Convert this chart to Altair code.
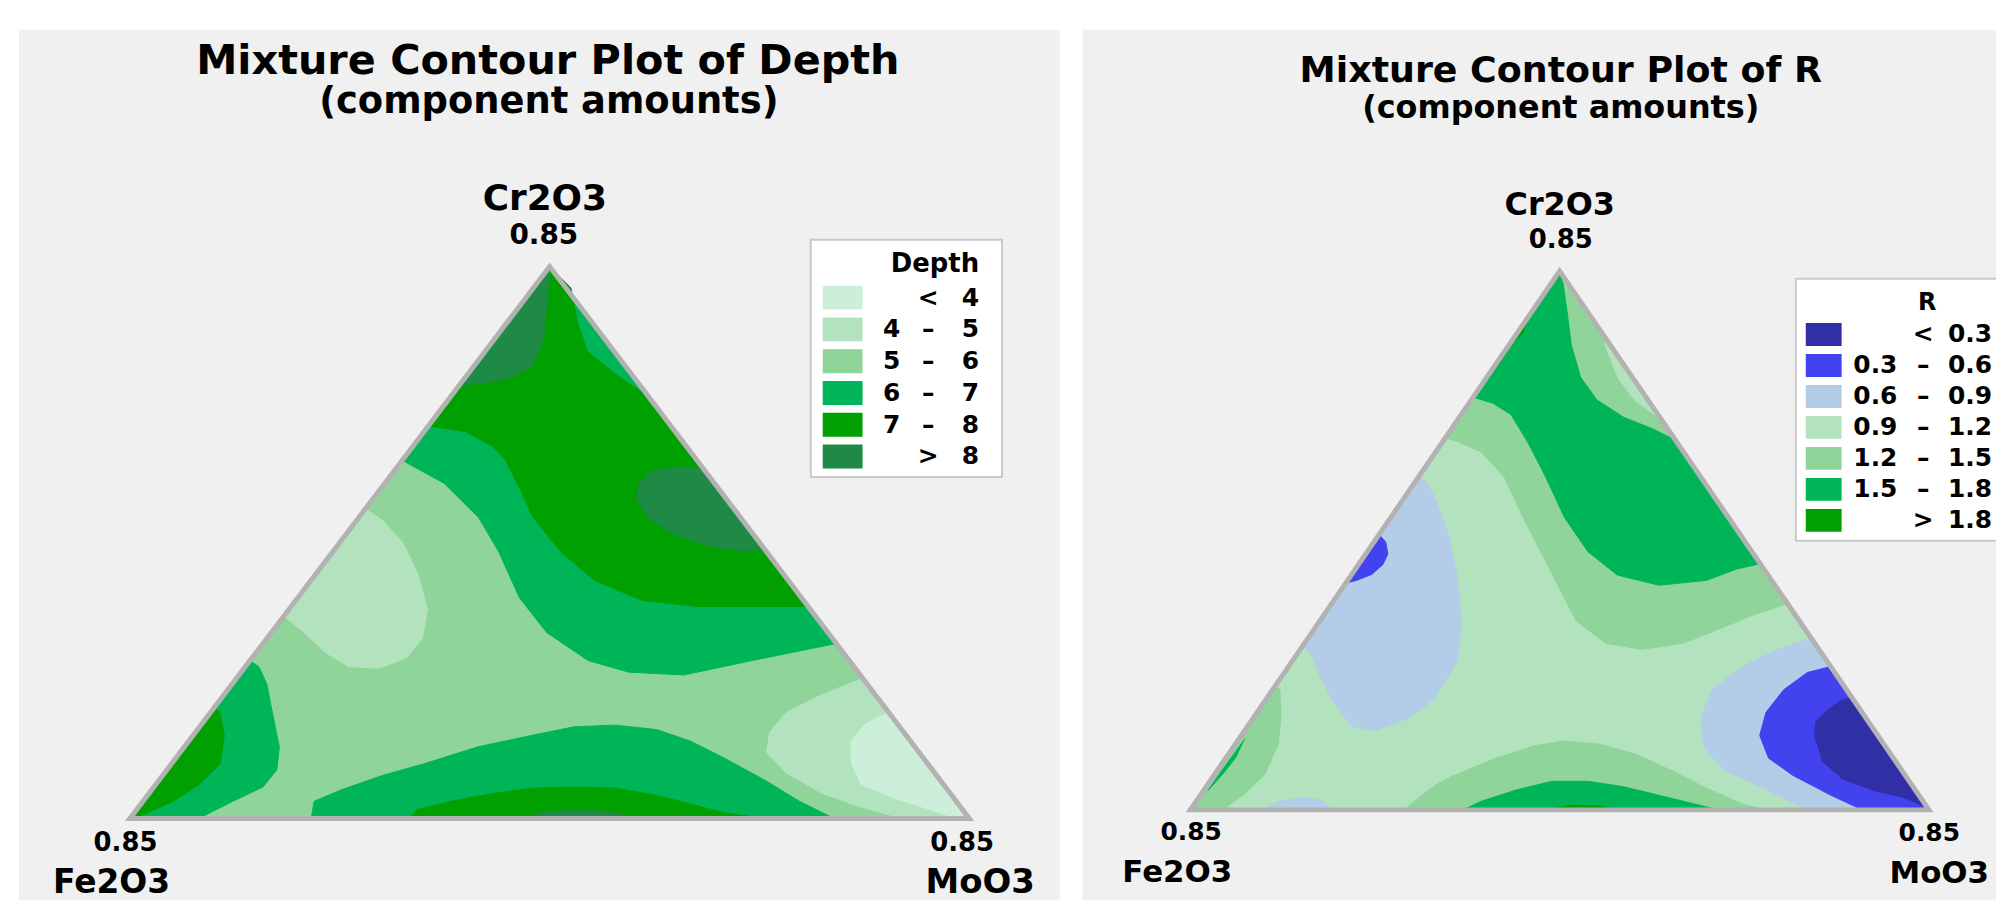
import altair as alt
import pandas as pd

TOTAL = 0.85          # each vertex of the simplex is 0.85 of one component
FONT = "DejaVu Sans"

# ---------------------------------------------------------------------------
# Contour regions.  Each point is (Cr2O3, MoO3) given as
# a fraction of the 0.85 total; Fe2O3 is the remainder.
# ---------------------------------------------------------------------------
# ----- Depth -----
depth_classes = ["< 4", "4 – 5", "5 – 6", "6 – 7", "7 – 8", "> 8"]
depth_lo = ["", "4", "5", "6", "7", ""]
depth_sep = ["<", "–", "–", "–", "–", ">"]
depth_hi = ["4", "5", "6", "7", "8", "8"]
depth_colors = ["#ccefd9", "#b3e3be", "#8fd498", "#00b458", "#00a000", "#1e8a46"]

depth_all = [(1.0, 0.0), (0.0, 0.0), (0.0, 1.0)]
depth_lt5_left = [(0.561, 0.0), (0.540, 0.031), (0.498, 0.077), (0.441, 0.123), (0.379, 0.165),
                  (0.327, 0.185), (0.291, 0.184), (0.272, 0.161), (0.275, 0.123), (0.301, 0.082),
                  (0.337, 0.039), (0.367, 0.0)]
depth_lt5_right = [(0.254, 0.746), (0.223, 0.711), (0.192, 0.686), (0.156, 0.684), (0.119, 0.699),
                   (0.083, 0.740), (0.047, 0.799), (0.023, 0.854), (0.0, 0.920), (0.0, 1.0)]
depth_lt4 = [(0.192, 0.808), (0.171, 0.790), (0.140, 0.789), (0.099, 0.810), (0.062, 0.840),
             (0.036, 0.894), (0.016, 0.945), (0.0, 0.985), (0.0, 1.0)]
depth_gt6_top = [(1.0, 0.0), (0.649, 0.0), (0.607, 0.071), (0.545, 0.143), (0.483, 0.198),
                 (0.400, 0.264), (0.337, 0.328), (0.286, 0.403), (0.265, 0.462), (0.260, 0.530),
                 (0.286, 0.598), (0.317, 0.683)]
depth_gt6_bottom = [(0.0, 0.216), (0.031, 0.204), (0.052, 0.226), (0.078, 0.262), (0.099, 0.301),
                    (0.130, 0.350), (0.151, 0.405), (0.166, 0.446), (0.169, 0.494), (0.161, 0.547),
                    (0.140, 0.598), (0.109, 0.654), (0.068, 0.724), (0.031, 0.782), (0.0, 0.839)]
depth_gt6_left = [(0.286, 0.0), (0.275, 0.016), (0.244, 0.041), (0.182, 0.080), (0.130, 0.113),
                  (0.088, 0.131), (0.057, 0.130), (0.031, 0.107), (0.0, 0.082), (0.0, 0.0)]
depth_gt7_top = [(0.711, 0.0), (0.701, 0.049), (0.675, 0.094), (0.649, 0.123), (0.597, 0.166),
                 (0.545, 0.208), (0.483, 0.272), (0.431, 0.338), (0.395, 0.413), (0.384, 0.484),
                 (0.384, 0.549), (0.384, 0.616), (0.763, 0.237), (0.805, 0.176), (0.846, 0.122),
                 (0.898, 0.084), (0.961, 0.045), (1.0, 0.0)]
depth_gt7_bottom = [(0.0, 0.332), (0.016, 0.334), (0.031, 0.367), (0.045, 0.409), (0.055, 0.453),
                    (0.057, 0.501), (0.055, 0.551), (0.042, 0.606), (0.026, 0.655), (0.010, 0.703),
                    (0.0, 0.757)]
depth_gt7_left = [(0.202, 0.0), (0.192, 0.011), (0.151, 0.037), (0.099, 0.058), (0.062, 0.052),
                  (0.031, 0.036), (0.010, 0.016), (0.0, 0.005), (0.0, 0.0)]
depth_gt8_top = [(1.0, 0.0), (0.940, 0.027), (0.867, 0.059), (0.820, 0.070), (0.800, 0.056),
                 (0.789, 0.029), (0.786, 0.0)]
depth_gt8_blob = [(0.633, 0.367), (0.637, 0.333), (0.630, 0.308), (0.607, 0.303), (0.576, 0.316),
                  (0.545, 0.345), (0.516, 0.389), (0.493, 0.446), (0.486, 0.482), (0.486, 0.514)]
depth_gt8_bottom = [(0.0, 0.464), (0.012, 0.491), (0.016, 0.538), (0.010, 0.573), (0.0, 0.611)]

depth_paint = [
    ("5 – 6", depth_all), ("4 – 5", depth_lt5_left), ("4 – 5", depth_lt5_right), ("< 4", depth_lt4),
    ("6 – 7", depth_gt6_top), ("6 – 7", depth_gt6_bottom), ("6 – 7", depth_gt6_left),
    ("7 – 8", depth_gt7_top), ("7 – 8", depth_gt7_bottom), ("7 – 8", depth_gt7_left),
    ("> 8", depth_gt8_top), ("> 8", depth_gt8_blob), ("> 8", depth_gt8_bottom),
]

# ----- R -----
r_classes = ["< 0.3", "0.3 – 0.6", "0.6 – 0.9", "0.9 – 1.2", "1.2 – 1.5", "1.5 – 1.8", "> 1.8"]
r_lo = ["", "0.3", "0.6", "0.9", "1.2", "1.5", ""]
r_sep = ["<", "–", "–", "–", "–", "–", ">"]
r_hi = ["0.3", "0.6", "0.9", "1.2", "1.5", "1.8", "1.8"]
r_colors = ["#312fa6", "#4242ef", "#b3cde9", "#b3e3be", "#8fd498", "#00b458", "#00a000"]

r_all = [(1.0, 0.0), (0.0, 0.0), (0.0, 1.0)]
r_gt12_top = [(0.691, 0.0), (0.686, 0.014), (0.665, 0.061), (0.617, 0.117), (0.543, 0.179),
              (0.479, 0.235), (0.415, 0.291), (0.351, 0.347), (0.309, 0.408), (0.298, 0.462),
              (0.309, 0.512), (0.335, 0.547), (0.362, 0.582), (0.383, 0.617), (1.0, 0.0)]
r_gt12_left = [(0.230, 0.0), (0.223, 0.010), (0.169, 0.038), (0.122, 0.058), (0.067, 0.068),
               (0.030, 0.059), (0.0, 0.044), (0.0, 0.0)]
r_gt12_bottom = [(0.0, 0.290), (0.027, 0.300), (0.045, 0.308), (0.062, 0.323), (0.094, 0.363),
                 (0.119, 0.406), (0.128, 0.442), (0.122, 0.493), (0.104, 0.550), (0.074, 0.613),
                 (0.040, 0.679), (0.011, 0.742), (0.0, 0.779)]
r_lt12_sliver = [(0.883, 0.117), (0.850, 0.140), (0.800, 0.180), (0.760, 0.222), (0.723, 0.277)]
r_gt15_top = [(1.0, 0.0), (0.766, 0.0), (0.755, 0.032), (0.734, 0.067), (0.681, 0.117),
              (0.617, 0.173), (0.543, 0.235), (0.479, 0.299), (0.436, 0.360), (0.417, 0.426),
              (0.426, 0.486), (0.447, 0.516), (0.457, 0.543), (0.686, 0.314), (0.707, 0.273),
              (0.729, 0.222), (0.761, 0.170), (0.803, 0.127), (0.862, 0.085), (0.926, 0.047),
              (0.979, 0.015)]
r_gt15_sliver = [(0.132, 0.008), (0.100, 0.007), (0.070, 0.006), (0.036, 0.006), (0.070, 0.011),
                 (0.100, 0.013)]
r_gt15_bottom = [(0.0, 0.369), (0.016, 0.386), (0.037, 0.423), (0.053, 0.463), (0.053, 0.512),
                 (0.043, 0.565), (0.027, 0.621), (0.011, 0.677), (0.0, 0.715)]
r_gt18_bottom = [(0.0, 0.482), (0.009, 0.510), (0.007, 0.551), (0.0, 0.578)]
r_gt18_apex = [(0.862, 0.0), (0.883, 0.008), (0.915, 0.0)]
r_lt09_left = [(0.617, 0.0), (0.606, 0.018), (0.574, 0.046), (0.511, 0.094), (0.436, 0.143),
               (0.351, 0.192), (0.277, 0.223), (0.205, 0.227), (0.169, 0.209), (0.147, 0.176),
               (0.155, 0.141), (0.205, 0.089), (0.245, 0.054), (0.287, 0.021), (0.305, 0.0)]
r_lt09_bump = [(0.0, 0.098), (0.016, 0.112), (0.023, 0.141), (0.018, 0.168), (0.0, 0.191)]
r_lt09_right = [(0.319, 0.681), (0.298, 0.646), (0.266, 0.614), (0.223, 0.595), (0.170, 0.606),
                (0.117, 0.636), (0.074, 0.686), (0.043, 0.750), (0.016, 0.803), (0.0, 0.839),
                (0.0, 1.0)]
r_lt06_spot = [(0.511, 0.0), (0.497, 0.016), (0.475, 0.030), (0.455, 0.033), (0.437, 0.027),
               (0.426, 0.012), (0.421, 0.0)]
r_lt06_right = [(0.266, 0.734), (0.255, 0.708), (0.223, 0.692), (0.181, 0.689), (0.138, 0.702),
                (0.096, 0.735), (0.064, 0.784), (0.027, 0.854), (0.0, 0.910), (0.0, 1.0)]
r_lt03 = [(0.207, 0.793), (0.205, 0.781), (0.186, 0.770), (0.163, 0.765), (0.137, 0.777),
          (0.089, 0.812), (0.057, 0.855), (0.035, 0.910), (0.024, 0.952), (0.007, 0.990),
          (0.0, 1.0)]

r_paint = [
    ("0.9 – 1.2", r_all),
    ("1.2 – 1.5", r_gt12_top), ("1.2 – 1.5", r_gt12_left), ("1.2 – 1.5", r_gt12_bottom),
    ("0.9 – 1.2", r_lt12_sliver),
    ("1.5 – 1.8", r_gt15_top), ("1.5 – 1.8", r_gt15_sliver), ("1.5 – 1.8", r_gt15_bottom),
    ("> 1.8", r_gt18_bottom), ("> 1.8", r_gt18_apex),
    ("0.6 – 0.9", r_lt09_left), ("0.6 – 0.9", r_lt09_bump), ("0.6 – 0.9", r_lt09_right),
    ("0.3 – 0.6", r_lt06_spot), ("0.3 – 0.6", r_lt06_right),
    ("< 0.3", r_lt03),
]

# simplex outline: starts mid-base so every corner is a mitred join
outline = [(0.0, 0.5), (0.0, 1.0), (1.0, 0.0), (0.0, 0.0), (0.0, 0.5)]


def simplex_frame(points):
    df = pd.DataFrame({"Cr2O3": [TOTAL * p[0] for p in points],
                       "MoO3": [TOTAL * p[1] for p in points]})
    df["Fe2O3"] = TOTAL - df["Cr2O3"] - df["MoO3"]
    # ternary projection
    df["x"] = (df["MoO3"] + df["Cr2O3"] / 2) / TOTAL
    df["y"] = df["Cr2O3"] / TOTAL
    df["ord"] = range(len(df))
    return df


def text(txt, px, py, size, align="center", clip=False):
    return alt.Chart(pd.DataFrame({"t": [txt]})).mark_text(
        font=FONT, fontWeight="bold", fontSize=size, align=align,
        baseline="alphabetic", color="#000000", clip=clip
    ).encode(x=alt.value(px), y=alt.value(py), text="t:N")


def panel(paint, classes, colors, W, H, tri, labels, leg):
    left, right, base, apex = tri
    kx = 1.0 / (right - left)
    ky = 1.0 / (base - apex)
    sx = alt.Scale(domain=[-left * kx, -left * kx + W * kx], nice=False, zero=False)
    sy = alt.Scale(domain=[-(H - base) * ky, -(H - base) * ky + H * ky], nice=False, zero=False)
    cmap = dict(zip(classes, colors))
    layers = []
    for cls, pts in paint:
        c = cmap[cls]
        layers.append(
            alt.Chart(simplex_frame(pts)).mark_line(fill=c, stroke=c, strokeWidth=1).encode(
                x=alt.X("x:Q", scale=sx, axis=None),
                y=alt.Y("y:Q", scale=sy, axis=None),
                order="ord:Q")
        )
    layers.append(
        alt.Chart(simplex_frame(outline)).mark_line(
            stroke="#b2b2b2", strokeWidth=5, strokeJoin="miter").encode(
            x=alt.X("x:Q", scale=sx, axis=None),
            y=alt.Y("y:Q", scale=sy, axis=None),
            order="ord:Q")
    )
    for lab in labels:
        layers.append(text(*lab))

    # legend box
    (bx0, bx1, by0, by1, ttl, tx, ty, tfs, talign, swx0, swx1, cy0, pitch, swh,
     clo, csep, chi, lfs, lo, sep, hi, clip) = leg
    layers.append(
        alt.Chart(pd.DataFrame({"k": [0]})).mark_rect(
            fill="white", stroke="#c9c9c9", strokeWidth=2, clip=clip).encode(
            x=alt.value(bx0), x2=alt.value(bx1), y=alt.value(by0), y2=alt.value(by1))
    )
    layers.append(text(ttl, tx, ty, tfs, talign))
    n = len(classes)
    ldf = pd.DataFrame({"cls": classes, "color": colors, "lo": lo, "sep": sep, "hi": hi})
    ldf["cy"] = [cy0 + i * pitch for i in range(n)]
    ldf["y0"] = ldf["cy"] - swh / 2
    ldf["y1"] = ldf["cy"] + swh / 2
    ldf["x0"] = swx0
    ldf["x1"] = swx1
    layers.append(
        alt.Chart(ldf).mark_rect().encode(
            x=alt.X("x0:Q", scale=None), x2="x1:Q",
            y=alt.Y("y0:Q", scale=None), y2="y1:Q",
            fill=alt.Fill("color:N", scale=None))
    )
    for field, xpos, al in (("lo", clo, "right"), ("sep", csep, "center"), ("hi", chi, "right")):
        layers.append(
            alt.Chart(ldf).mark_text(font=FONT, fontWeight="bold", fontSize=lfs, align=al,
                                     baseline="middle", color="#000000").encode(
                x=alt.value(xpos), y=alt.Y("cy:Q", scale=None), text=f"{field}:N")
        )
    return alt.layer(*layers).properties(width=W, height=H)


left_panel = panel(
    depth_paint, depth_classes, depth_colors, 1045, 874,
    (111.4, 954.2, 791.9, 237.8),
    [("Mixture Contour Plot of Depth", 531, 44, 41.5),
     ("(component amounts)", 532, 84, 37),
     ("Cr2O3", 528, 181, 36), ("0.85", 527, 215, 28),
     ("0.85", 107, 825, 26), ("Fe2O3", 93, 867, 33),
     ("0.85", 947, 825, 26), ("MoO3", 965, 867, 34)],
    (795, 987, 211, 449, "Depth", 964, 243, 26, "right", 807, 847, 269, 31.9, 24,
     885, 913, 964, 25, depth_lo, depth_sep, depth_hi, False),
)

right_panel = panel(
    r_paint, r_classes, r_colors, 917, 874,
    (108.1, 849.6, 783.3, 242.4),
    [("Mixture Contour Plot of R", 480, 52, 36.5),
     ("(component amounts)", 480, 89, 32),
     ("Cr2O3", 479, 186, 32), ("0.85", 480, 219, 26),
     ("0.85", 109, 814, 25), ("Fe2O3", 95, 856, 31),
     ("0.85", 850, 815, 25), ("MoO3", 810, 857, 31, "left", True)],
    (716, 960, 250, 513, "R", 848, 281, 24, "center", 726, 762, 306, 31.1, 23,
     818, 844, 913, 25, r_lo, r_sep, r_hi, True),
)

chart = alt.hconcat(left_panel, right_panel, spacing=23).properties(
    padding={"left": 11, "top": 20, "right": 0, "bottom": 0},
    background="white",
).configure_view(stroke=None, fill="#f0f0f0")

chart.save("out.html", embed_options={"renderer": "svg", "actions": False})
